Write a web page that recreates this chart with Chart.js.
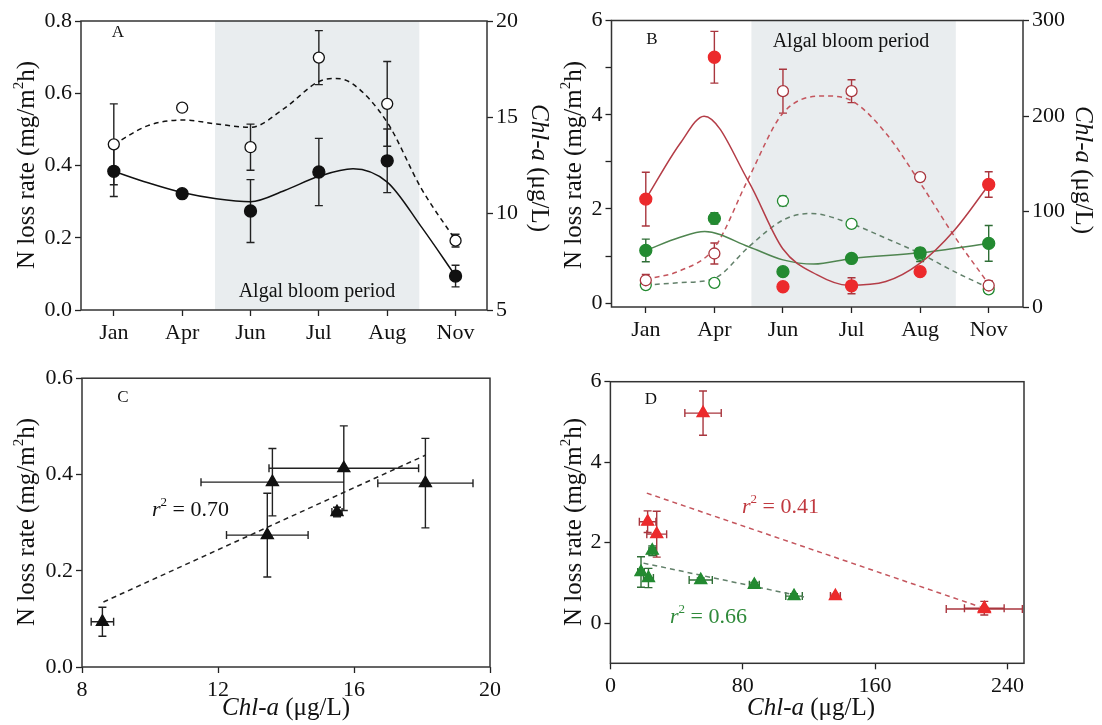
<!DOCTYPE html>
<html>
<head>
<meta charset="utf-8">
<title>N loss rate and Chl-a</title>
<script src="https://cdn.jsdelivr.net/npm/chart.js@4.4.1/dist/chart.umd.min.js"></script>
<style>
  body { margin: 0; background: #fff; }
  canvas { position: absolute; }
</style>
</head>
<body>
<canvas id="chartA" width="551" height="362" style="left:0;top:0"></canvas>
<canvas id="chartB" width="551" height="362" style="left:551px;top:0"></canvas>
<canvas id="chartC" width="551" height="363" style="left:0;top:362px"></canvas>
<canvas id="chartD" width="551" height="363" style="left:551px;top:362px"></canvas>
<script>
'use strict';

const SERIF = '"Liberation Serif", "Times New Roman", serif';

// Sampling months, drawn as evenly spaced categories.
const months = ['Jan', 'Apr', 'Jun', 'Jul', 'Aug', 'Nov'];
const monthPos = [0, 1, 2, 3, 4, 5];

// Panel A: N loss rate (left axis) and Chl-a (right axis).
const aNLoss = [0.384, 0.322, 0.274, 0.382, 0.413, 0.094];
const aNLossErr = [0.07, 0.01, 0.087, 0.093, 0.088, 0.03];
const aChl = [13.6, 15.5, 13.45, 18.1, 15.7, 8.6];
const aChlErr = [2.1, 0.15, 1.2, 1.4, 2.2, 0.33];
// Fitted curves.
const aFitPos = [0, 0.5, 1, 1.5, 2, 2.5, 3, 3.5, 4, 4.5, 5];
const aNLossFit = [0.384, 0.352, 0.325, 0.308, 0.300, 0.331, 0.370, 0.391, 0.354, 0.230, 0.094];
const aChlFitPos = [0, 0.5, 1, 1.5, 2, 2.5, 3, 3.25, 3.5, 4, 4.5, 5];
const aChlFit = [13.6, 14.57, 14.86, 14.66, 14.48, 15.48, 16.86, 17.02, 16.72, 14.74, 11.3, 8.62];

// Panel B: two sites (red, green).
const bRedN = [2.21, 5.22, 0.35, 0.37, 0.67, 2.52];
const bRedNErr = [0.57, 0.55, 0.05, 0.17, 0.05, 0.27];
const bGreenN = [1.12, 1.80, 0.67, 0.95, 1.07, 1.27];
const bGreenNErr = [0.24, 0.12, 0.06, 0.06, 0.05, 0.38];
const bRedChl = [28, 56, 226, 226, 136, 22.5];
const bRedChlErr = [6, 11, 23, 12, 3, 5];
const bGreenChl = [23, 25.3, 111, 87, 54.6, 18.5];
const bGreenChlErr = [3, 2, 5, 3, 7, 2];
const bRedNFitPos = [0, 0.5, 0.85, 1.5, 2, 2.5, 2.95, 3.5, 4, 4.5, 5];
const bRedNFit = [2.21, 3.39, 3.97, 2.58, 1.15, 0.6, 0.38, 0.46, 0.85, 1.55, 2.51];
const bGreenNFitPos = [0, 0.5, 0.86, 1.5, 2, 2.45, 3, 4, 5];
const bGreenNFit = [1.12, 1.40, 1.52, 1.20, 0.92, 0.83, 0.95, 1.07, 1.27];
const bRedChlFitPos = [0, 0.5, 1, 1.5, 2, 2.6, 3, 3.5, 4, 4.5, 5];
const bRedChlFit = [29, 38, 62, 135, 203, 221, 216, 182, 130, 74, 24];
const bGreenChlFitPos = [0, 0.5, 1, 1.5, 2, 2.4, 3, 3.5, 4, 4.5, 5];
const bGreenChlFit = [23, 25.5, 30, 63, 91, 98, 87, 72, 56, 37, 20];

// Regression lines (end points).
const cFitX = [8.63, 18.1];
const cFitY = [0.135, 0.44];
const dRedFitX = [22, 223];
const dRedFitY = [3.23, 0.41];
const dGreenFitX = [20, 117];
const dGreenFitY = [1.49, 0.65];

// Algal bloom period on the month axis.
const aBloom = [1.48, 4.47];
const bBloom = [1.54, 4.52];

// Tick values.
const aYTicks = [0, 0.2, 0.4, 0.6, 0.8];
const aY1Ticks = [5, 10, 15, 20];
const bYTicks = [0, 1, 2, 3, 4, 5, 6];
const bY1Ticks = [0, 100, 200, 300];
const cXTicks = [8, 12, 16, 20];
const cYTicks = [0, 0.2, 0.4, 0.6];
const dXTicks = [0, 80, 160, 240];
const dYTicks = [0, 2, 4, 6];

const RED = '#ec2a2c';
const RED_DARK = '#a9363e';
const RED_LINE = '#b43d47';
const RED_DASH = '#c4555d';
const GREEN = '#238a31';
const GREEN_DARK = '#2f6e36';
const GREEN_LINE = '#4f8550';
const GREEN_DASH = '#62806a';

function pts(xs, ys) {
  return xs.map((x, i) => ({ x: x, y: ys[i] }));
}

function markers(data, extra) {
  return Object.assign({
    data: data,
    showLine: false,
    pointRadius: 6,
    pointBorderWidth: 1.3,
    yAxisID: 'y',
  }, extra);
}

function curve(data, color, dashed, yAxisID) {
  return {
    data: data,
    showLine: true,
    pointRadius: 0,
    borderColor: color,
    borderWidth: 1.5,
    borderDash: dashed ? [5, 4] : [],
    cubicInterpolationMode: 'monotone',
    yAxisID: yAxisID || 'y',
    fill: false,
  };
}

function axis(position, min, max, ticks, fmt, size) {
  const horizontal = position === 'bottom';
  return {
    type: 'linear',
    position: position,
    min: min,
    max: max,
    afterBuildTicks: s => { s.ticks = ticks.map(v => ({ value: v })); },
    afterFit: s => { if (horizontal) { s.height = size; } else { s.width = size; } },
    grid: { drawOnChartArea: false, drawTicks: true, tickLength: 6, tickWidth: 1.3, tickColor: '#222' },
    border: { display: false },
    ticks: {
      font: { family: SERIF, size: 22 },
      color: '#111',
      padding: horizontal ? 4 : 3,
      autoSkip: false,
      maxRotation: 0,
      callback: fmt,
    },
  };
}

const monthLabel = v => months[Math.round(v)];
const fixed1 = v => v.toFixed(1);
const plain = v => String(v);

// Mixed-style text: italic parts and superscripts.
function drawRich(ctx, t) {
  const size = t.size || 22;
  const fontOf = p => (p.it ? 'italic ' : '') + (p.sup ? Math.round(size * 0.6) : size) + 'px ' + SERIF;
  ctx.save();
  ctx.translate(t.x, t.y);
  ctx.rotate(t.rot || 0);
  ctx.textBaseline = 'middle';
  ctx.textAlign = 'left';
  let total = 0;
  t.parts.forEach(p => { ctx.font = fontOf(p); total += ctx.measureText(p.s).width; });
  let cx = t.align === 'left' ? 0 : -total / 2;
  ctx.fillStyle = t.color || '#111';
  t.parts.forEach(p => {
    ctx.font = fontOf(p);
    ctx.fillText(p.s, cx, p.sup ? -size * 0.33 : 0);
    cx += ctx.measureText(p.s).width;
  });
  ctx.restore();
}

function drawErrorBars(chart) {
  const ctx = chart.ctx;
  chart.data.datasets.forEach((ds, i) => {
    if (!ds.errY && !ds.errX) {
      return;
    }
    const meta = chart.getDatasetMeta(i);
    const xs = chart.scales[meta.xAxisID];
    const ys = chart.scales[meta.yAxisID];
    const cap = 4;
    ctx.save();
    ctx.strokeStyle = ds.errColor || '#222';
    ctx.lineWidth = 1.4;
    ctx.beginPath();
    ds.data.forEach((p, j) => {
      const px = xs.getPixelForValue(p.x);
      const py = ys.getPixelForValue(p.y);
      if (ds.errY && ds.errY[j]) {
        const top = ys.getPixelForValue(p.y + ds.errY[j]);
        const bot = ys.getPixelForValue(p.y - ds.errY[j]);
        ctx.moveTo(px, top); ctx.lineTo(px, bot);
        ctx.moveTo(px - cap, top); ctx.lineTo(px + cap, top);
        ctx.moveTo(px - cap, bot); ctx.lineTo(px + cap, bot);
      }
      if (ds.errX && ds.errX[j]) {
        const l = xs.getPixelForValue(p.x - ds.errX[j]);
        const r = xs.getPixelForValue(p.x + ds.errX[j]);
        ctx.moveTo(l, py); ctx.lineTo(r, py);
        ctx.moveTo(l, py - cap); ctx.lineTo(l, py + cap);
        ctx.moveTo(r, py - cap); ctx.lineTo(r, py + cap);
      }
    });
    ctx.stroke();
    ctx.restore();
  });
}

// Band, labels, error bars and the frame round the plot area.
function deco(cfg) {
  return {
    id: 'deco',
    beforeDatasetsDraw(chart) {
      const ctx = chart.ctx;
      const area = chart.chartArea;
      if (cfg.band) {
        const l = chart.scales.x.getPixelForValue(cfg.band[0]);
        const r = chart.scales.x.getPixelForValue(cfg.band[1]);
        ctx.fillStyle = '#e9edef';
        ctx.fillRect(l, area.top, r - l, area.bottom - area.top);
      }
      (cfg.texts || []).forEach(t => drawRich(ctx, t));
      drawErrorBars(chart);
    },
    afterDraw(chart) {
      const ctx = chart.ctx;
      const a = chart.chartArea;
      ctx.save();
      ctx.strokeStyle = '#333';
      ctx.lineWidth = 1.5;
      ctx.strokeRect(a.left, a.top, a.right - a.left, a.bottom - a.top);
      ctx.restore();
    },
  };
}

const nLossTitle = [{ s: 'N loss rate (mg/m' }, { s: '2', sup: true }, { s: 'h)' }];
const chlTitle = [{ s: 'Chl-a', it: true }, { s: ' (\u03bcg/L)' }];

function baseOptions(padding, scales) {
  return {
    responsive: false,
    animation: false,
    layout: { padding: padding },
    plugins: { legend: { display: false }, tooltip: { enabled: false } },
    scales: scales,
  };
}

// ---- Panel A ----
new Chart(document.getElementById('chartA'), {
  type: 'scatter',
  data: {
    datasets: [
      markers(pts(monthPos, aNLoss), {
        backgroundColor: '#111', borderColor: '#111',
        errY: aNLossErr, errColor: '#222',
      }),
      markers(pts(monthPos, aChl), {
        backgroundColor: '#fff', borderColor: '#111', pointRadius: 5.5,
        yAxisID: 'y1', errY: aChlErr, errColor: '#222',
      }),
      curve(pts(aFitPos, aNLossFit), '#111', false, 'y'),
      curve(pts(aChlFitPos, aChlFit), '#111', true, 'y1'),
    ],
  },
  options: baseOptions({ top: 21, left: 0, right: 0, bottom: 0 }, {
    x: axis('bottom', -0.48, 5.46, monthPos, monthLabel, 52),
    y: axis('left', 0, 0.8, aYTicks, fixed1, 81),
    y1: axis('right', 5, 20, aY1Ticks, plain, 64),
  }),
  plugins: [deco({
    band: aBloom,
    texts: [
      { x: 118, y: 33, size: 17, parts: [{ s: 'A' }] },
      { x: 317, y: 292, size: 20, parts: [{ s: 'Algal bloom period' }] },
      { x: 27, y: 165, size: 25, rot: -Math.PI / 2, parts: nLossTitle },
      { x: 539, y: 168, size: 25, rot: Math.PI / 2, parts: chlTitle },
    ],
  })],
});

// ---- Panel B ----
new Chart(document.getElementById('chartB'), {
  type: 'scatter',
  data: {
    datasets: [
      markers(pts(monthPos, bRedN), {
        backgroundColor: RED, borderColor: RED,
        errY: bRedNErr, errColor: RED_DARK,
      }),
      markers(pts(monthPos, bGreenN), {
        backgroundColor: GREEN, borderColor: GREEN,
        errY: bGreenNErr, errColor: GREEN_DARK,
      }),
      markers(pts(monthPos, bRedChl), {
        backgroundColor: '#fff', borderColor: RED_DARK, pointRadius: 5.5,
        yAxisID: 'y1', errY: bRedChlErr, errColor: RED_DARK,
      }),
      markers(pts(monthPos, bGreenChl), {
        backgroundColor: '#fff', borderColor: GREEN, pointRadius: 5.5,
        yAxisID: 'y1', errY: bGreenChlErr, errColor: GREEN_DARK,
      }),
      curve(pts(bRedNFitPos, bRedNFit), RED_LINE, false, 'y'),
      curve(pts(bGreenNFitPos, bGreenNFit), GREEN_LINE, false, 'y'),
      curve(pts(bRedChlFitPos, bRedChlFit), RED_DASH, true, 'y1'),
      curve(pts(bGreenChlFitPos, bGreenChlFit), GREEN_DASH, true, 'y1'),
    ],
  },
  options: baseOptions({ top: 20.5, left: 0, right: 0, bottom: 0 }, {
    x: axis('bottom', -0.5, 5.5, monthPos, monthLabel, 55),
    y: axis('left', -0.08, 6, bYTicks, v => (v % 2 === 0 ? String(v) : ''), 60.5),
    y1: axis('right', 0, 300, bY1Ticks, plain, 79),
  }),
  plugins: [deco({
    band: bBloom,
    texts: [
      { x: 101, y: 40, size: 17, parts: [{ s: 'B' }] },
      { x: 300, y: 42, size: 20, parts: [{ s: 'Algal bloom period' }] },
      { x: 23, y: 165, size: 25, rot: -Math.PI / 2, parts: nLossTitle },
      { x: 532, y: 170, size: 25, rot: Math.PI / 2, parts: chlTitle },
    ],
  })],
});

// ---- Panel C ----
new Chart(document.getElementById('chartC'), {
  type: 'scatter',
  data: {
    datasets: [
      markers(pts(aChl, aNLoss), {
        pointStyle: 'triangle', pointRadius: 7,
        backgroundColor: '#111', borderColor: '#111',
        errX: aChlErr, errY: aNLossErr, errColor: '#222',
      }),
      curve(pts(cFitX, cFitY), '#222', true, 'y'),
    ],
  },
  options: baseOptions({ top: 16, left: 0, right: 61, bottom: 0 }, {
    x: axis('bottom', 8, 20, cXTicks, plain, 58),
    y: axis('left', 0, 0.6, cYTicks, fixed1, 82),
  }),
  plugins: [deco({
    texts: [
      { x: 123, y: 36, size: 17, parts: [{ s: 'C' }] },
      { x: 152, y: 148, size: 22, align: 'left', parts: [{ s: 'r', it: true }, { s: '2', sup: true }, { s: ' = 0.70' }] },
      { x: 27, y: 160, size: 25, rot: -Math.PI / 2, parts: nLossTitle },
      { x: 286, y: 346, size: 25, parts: chlTitle },
    ],
  })],
});

// ---- Panel D ----
new Chart(document.getElementById('chartD'), {
  type: 'scatter',
  data: {
    datasets: [
      markers(pts(bRedChl, bRedN), {
        pointStyle: 'triangle', pointRadius: 7,
        backgroundColor: RED, borderColor: RED,
        errX: bRedChlErr, errY: bRedNErr, errColor: RED_DARK,
      }),
      markers(pts(bGreenChl, bGreenN), {
        pointStyle: 'triangle', pointRadius: 7,
        backgroundColor: GREEN, borderColor: GREEN,
        errX: bGreenChlErr, errY: bGreenNErr, errColor: GREEN_DARK,
      }),
      curve(pts(dRedFitX, dRedFitY), RED_DASH, true, 'y'),
      curve(pts(dGreenFitX, dGreenFitY), GREEN_DASH, true, 'y'),
    ],
  },
  options: baseOptions({ top: 19.7, left: 0, right: 78, bottom: 0 }, {
    x: axis('bottom', 0, 250, dXTicks, plain, 61.7),
    y: axis('left', -1, 6, dYTicks, plain, 59.4),
  }),
  plugins: [deco({
    texts: [
      { x: 100, y: 38, size: 17, parts: [{ s: 'D' }] },
      { x: 191, y: 145, size: 22, align: 'left', color: '#c0393f', parts: [{ s: 'r', it: true }, { s: '2', sup: true }, { s: ' = 0.41' }] },
      { x: 119, y: 255, size: 22, align: 'left', color: '#2f8a3a', parts: [{ s: 'r', it: true }, { s: '2', sup: true }, { s: ' = 0.66' }] },
      { x: 23, y: 160, size: 25, rot: -Math.PI / 2, parts: nLossTitle },
      { x: 260, y: 346, size: 25, parts: chlTitle },
    ],
  })],
});
</script>
</body>
</html>
